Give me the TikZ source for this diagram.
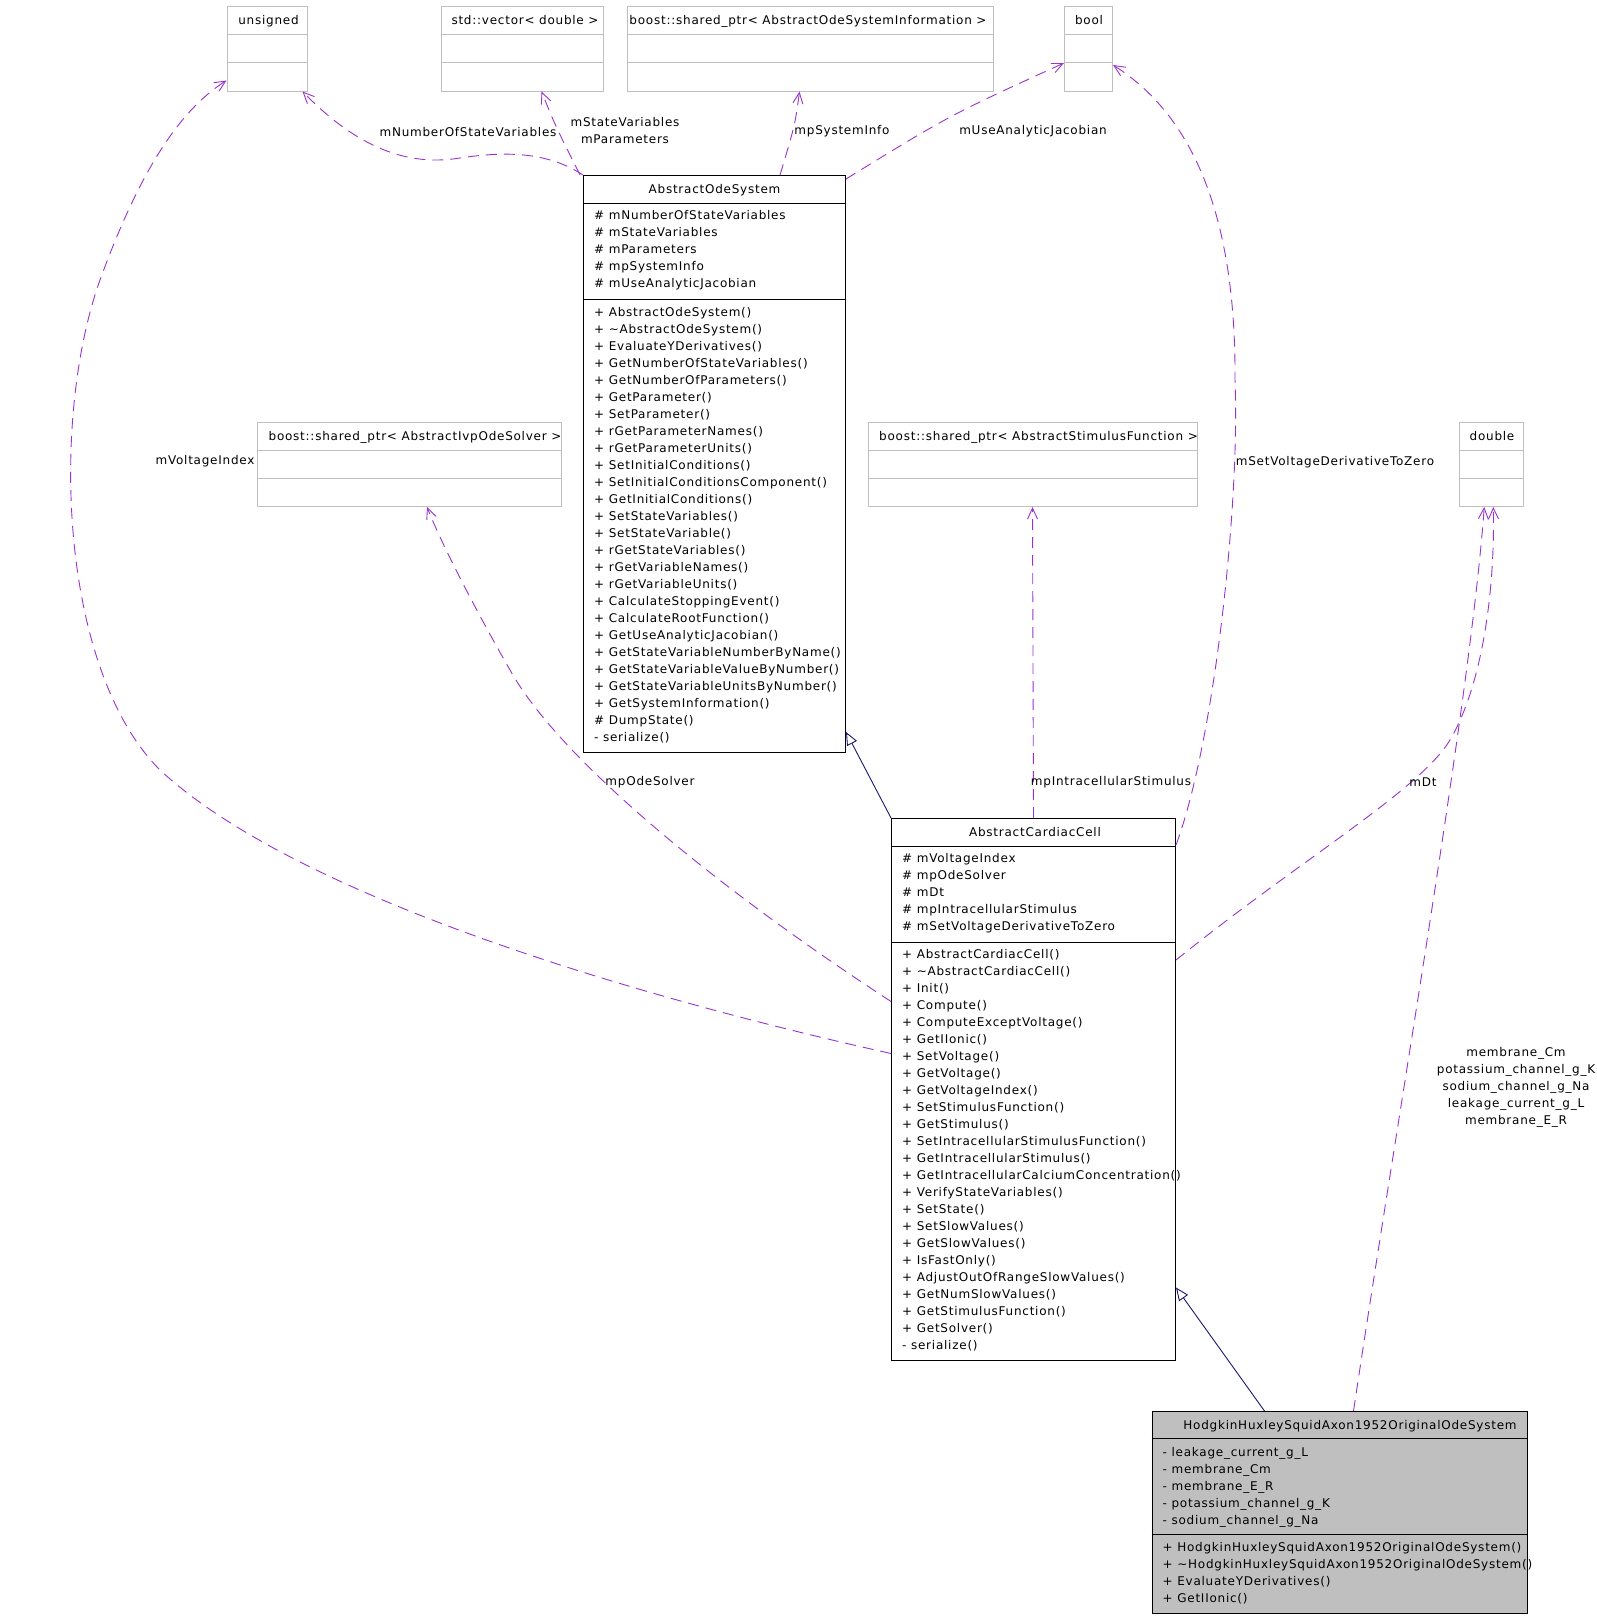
\documentclass[tikz,border=0pt]{standalone}
\usepackage{fontspec}
\newfontfamily\umlfont{DejaVu Sans}[LetterSpace=6.3]
\usetikzlibrary{arrows.meta,calc}
\definecolor{depviolet}{HTML}{9A32CD}
\definecolor{inhblue}{HTML}{191970}
\definecolor{typegrey}{HTML}{BFBFBF}

\begin{document}
\begin{tikzpicture}[x=1pt, y=-1pt,
		txt/.style={font=\umlfont\fontsize{12}{17}\selectfont,
			inner sep=0pt, text=black},
		member/.style={txt, anchor=base west},
		header/.style={txt, anchor=base},
		lbl/.style={txt, align=center},
		typebox/.style={draw=typegrey, line width=1pt, inner sep=0pt},
		classbox/.style={draw=black, line width=1pt, inner sep=0pt},
		dep/.style={depviolet, line width=0.9pt, dash pattern=on 11pt off 7pt,
			-{Straight Barb[length=11pt,width=10pt]}},
		inh/.style={inhblue, line width=0.9pt,
			-{Triangle[open,length=13pt,width=11pt]}}]
	\useasboundingbox (0,0) rectangle (1597,1619);
	
	%% tipi dei membri
	\node[typebox, minimum width=80,  minimum height=84] (unsignedT) at (267,49) {};
	\node[typebox, minimum width=162, minimum height=84] (vectorT)   at (522,49) {};
	\node[typebox, minimum width=366, minimum height=84] (sysinfoT)  at (810,49) {};
	\node[typebox, minimum width=48,  minimum height=84] (boolT)     at (1088.5,49) {};
	\node[typebox, minimum width=304, minimum height=84] (solverT)   at (409,464.5) {};
	\node[typebox, minimum width=329, minimum height=84] (stimT)     at (1032.5,464.5) {};
	\node[typebox, minimum width=64.5,minimum height=84] (doubleT)   at (1491.25,464.5) {};
	\foreach \b in {unsignedT,vectorT,sysinfoT,boolT,solverT,stimT,doubleT}
		\foreach \d in {28,56}
			\draw[typegrey, line width=1pt] ([yshift=-\d pt]\b.north west) -- ([yshift=-\d pt]\b.north east);
	
	\node[header] (unsignedH) at (268.5,24.5) {unsigned};
	\node[header] (vectorH)   at (525,24.5)   {std::vector< double >};
	\node[header] (sysinfoH)  at (808,24.5)   {boost::shared\_ptr< AbstractOdeSystemInformation >};
	\node[header] (boolH)     at (1089,24.5)  {bool};
	\node[header] (solverH)   at (415,440)    {boost::shared\_ptr< AbstractIvpOdeSolver >};
	\node[header] (stimH)     at (1038.5,440) {boost::shared\_ptr< AbstractStimulusFunction >};
	\node[header] (doubleH)   at (1492,440)   {double};
	
	%% AbstractOdeSystem
	\node[classbox, minimum width=262, minimum height=577] (aos) at (714.5,464) {};
	\draw[line width=1pt] ([yshift=-28pt]aos.north west) -- ([yshift=-28pt]aos.north east);
	\draw[line width=1pt] ([yshift=-124pt]aos.north west) -- ([yshift=-124pt]aos.north east);
	\node[header] (aosH) at (714.5,193) {AbstractOdeSystem};
	\foreach \t [count=\i from 0] in {\# mNumberOfStateVariables, \# mStateVariables,
			\# mParameters, \# mpSystemInfo, \# mUseAnalyticJacobian}
		\node[member] (aosA\i) at (594,{219.5+17*\i}) {\t};
	\foreach \t [count=\i from 0] in {+ AbstractOdeSystem(), + \textasciitilde AbstractOdeSystem(),
			+ EvaluateYDerivatives(), + GetNumberOfStateVariables(), + GetNumberOfParameters(),
			+ GetParameter(), + SetParameter(), + rGetParameterNames(), + rGetParameterUnits(),
			+ SetInitialConditions(), + SetInitialConditionsComponent(), + GetInitialConditions(),
			+ SetStateVariables(), + SetStateVariable(), + rGetStateVariables(),
			+ rGetVariableNames(), + rGetVariableUnits(), + CalculateStoppingEvent(),
			+ CalculateRootFunction(), + GetUseAnalyticJacobian(),
			+ GetStateVariableNumberByName(), + GetStateVariableValueByNumber(),
			+ GetStateVariableUnitsByNumber(), + GetSystemInformation(), \# DumpState(),
			- serialize()}
		\node[member] (aosM\i) at (594,{316.3+17*\i}) {\t};
	
	%% AbstractCardiacCell
	\node[classbox, minimum width=284, minimum height=542] (acc) at (1033.5,1089.5) {};
	\draw[line width=1pt] ([yshift=-28pt]acc.north west) -- ([yshift=-28pt]acc.north east);
	\draw[line width=1pt] ([yshift=-124pt]acc.north west) -- ([yshift=-124pt]acc.north east);
	\node[header] (accH) at (1035,836) {AbstractCardiacCell};
	\foreach \t [count=\i from 0] in {\# mVoltageIndex, \# mpOdeSolver, \# mDt,
			\# mpIntracellularStimulus, \# mSetVoltageDerivativeToZero}
		\node[member] (accA\i) at (902,{862.7+17*\i}) {\t};
	\foreach \t [count=\i from 0] in {+ AbstractCardiacCell(), + \textasciitilde AbstractCardiacCell(),
			+ Init(), + Compute(), + ComputeExceptVoltage(), + GetIIonic(), + SetVoltage(),
			+ GetVoltage(), + GetVoltageIndex(), + SetStimulusFunction(), + GetStimulus(),
			+ SetIntracellularStimulusFunction(), + GetIntracellularStimulus(),
			+ GetIntracellularCalciumConcentration(), + VerifyStateVariables(), + SetState(),
			+ SetSlowValues(), + GetSlowValues(), + IsFastOnly(),
			+ AdjustOutOfRangeSlowValues(), + GetNumSlowValues(), + GetStimulusFunction(),
			+ GetSolver(), - serialize()}
		\node[member] (accM\i) at (902,{958.7+17*\i}) {\t};
	
	%% HodgkinHuxleySquidAxon1952OriginalOdeSystem
	\node[classbox, fill=typegrey, minimum width=375, minimum height=202] (hh) at (1339.5,1512.5) {};
	\draw[line width=1pt] ([yshift=-27.5pt]hh.north west) -- ([yshift=-27.5pt]hh.north east);
	\draw[line width=1pt] ([yshift=-123.5pt]hh.north west) -- ([yshift=-123.5pt]hh.north east);
	\node[header] (hhH) at (1350,1429) {HodgkinHuxleySquidAxon1952OriginalOdeSystem};
	\foreach \t [count=\i from 0] in {- leakage\_current\_g\_L, - membrane\_Cm, - membrane\_E\_R,
			- potassium\_channel\_g\_K, - sodium\_channel\_g\_Na}
		\node[member] (hhA\i) at (1162.5,{1456.5+17*\i}) {\t};
	\foreach \t [count=\i from 0] in {+ HodgkinHuxleySquidAxon1952OriginalOdeSystem(),
			+ \textasciitilde HodgkinHuxleySquidAxon1952OriginalOdeSystem(),
			+ EvaluateYDerivatives(), + GetIIonic()}
		\node[member] (hhM\i) at (1162.5,{1551.7+17*\i}) {\t};
	
	%% ereditarieta
	\draw[inh] (acc.north west) -- ([yshift=21pt]aos.south east);
	\draw[inh] ([xshift=-75pt]hh.north) -- ([yshift=73.5pt]acc.south east);
	
	%% dipendenze di AbstractOdeSystem
	\draw[dep] (aos.north west) .. controls (545,150) and (500,152) .. (460,158)
		.. controls (400,168) and (350,140) .. ([xshift=-5pt]unsignedT.south east);
	\draw[dep] ([xshift=-3pt]aos.north west) .. controls (555,125) .. ([xshift=19.5pt]vectorT.south);
	\draw[dep] ([xshift=65.5pt]aos.north) .. controls (795,125) .. ([xshift=-10.5pt]sysinfoT.south);
	\draw[dep] ([yshift=-4pt]aos.north east) .. controls (950,115) .. ([yshift=-14pt]boolT.west);
	
	%% dipendenze di AbstractCardiacCell
	\draw[dep] ([yshift=36pt]acc.west) .. controls (650,1000) and (300,900) .. (160,770)
		.. controls (60,670) and (50,420) .. (100,280)
		.. controls (140,170) and (180,110) .. ([yshift=11pt]unsignedT.south west);
	\draw[dep] ([yshift=88pt]acc.west) .. controls (720,890) and (560,760) .. (510,670)
		.. controls (470,600) and (440,540) .. ([xshift=18pt]solverT.south);
	\draw[dep] (acc.north) -- (stimT.south);
	\draw[dep] ([yshift=-27pt]acc.north east) .. controls (1215,740) and (1240,500) .. (1235,380)
		.. controls (1236,230) and (1200,120) .. ([yshift=-16pt]boolT.east);
	\draw[dep] ([yshift=129.5pt]acc.east) .. controls (1300,860) and (1420,790) .. (1450,740)
		.. controls (1485,680) and (1495,580) .. ([xshift=2pt]doubleT.south);
	
	%% dipendenze di HodgkinHuxley
	\draw[dep] ([xshift=14pt]hh.north) .. controls (1400,1100) and (1470,700) .. ([xshift=-7pt]doubleT.south);
	
	%% etichette
	\node[lbl] (lNumber)    at (468,132)     {mNumberOfStateVariables};
	\node[lbl] (lStatePar)  at (625,131)     {mStateVariables\\mParameters};
	\node[lbl] (lSysInfo)   at (842,131.5)   {mpSystemInfo};
	\node[lbl] (lJacobian)  at (1033,131.5)  {mUseAnalyticJacobian};
	\node[lbl] (lVoltIdx)   at (205,461.5)   {mVoltageIndex};
	\node[lbl] (lZero)      at (1335,462.5)  {mSetVoltageDerivativeToZero};
	\node[lbl] (lSolver)    at (650,782.5)   {mpOdeSolver};
	\node[lbl] (lStimulus)  at (1111,782.5)  {mpIntracellularStimulus};
	\node[lbl] (lDt)        at (1423,782.5)  {mDt};
	\node[lbl] (lHHpar)     at (1516,1087.5) {membrane\_Cm\\potassium\_channel\_g\_K\\sodium\_channel\_g\_Na\\leakage\_current\_g\_L\\membrane\_E\_R};
\end{tikzpicture}
\end{document}
